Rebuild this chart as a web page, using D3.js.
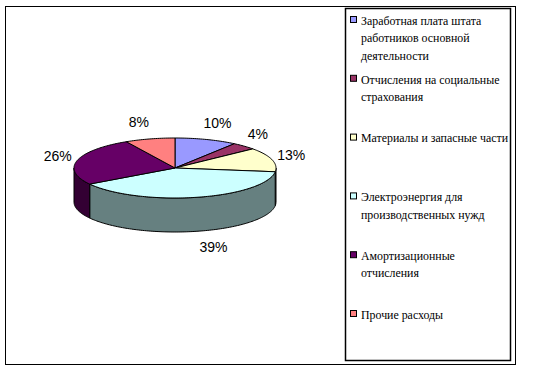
<!doctype html>
<html>
<head>
<meta charset="utf-8">
<script src="https://d3js.org/d3.v7.min.js"></script>
<style>
    body { margin: 0; background: #fff; }
    .pct { font-family: "Liberation Sans", Arial, sans-serif; font-size: 14px; fill: #000; }
    .leg { font-family: "Liberation Serif", "DejaVu Serif", serif; font-size: 13.5px; fill: #000; }
</style>
</head>
<body>
<div id="chart"></div>
<script>

    // data
    var categories = [
        ["Заработная плата штата", "работников основной", "деятельности"],
        ["Отчисления на социальные", "страхования"],
        ["Материалы и запасные части"],
        ["Электроэнергия для", "производственных  нужд"],
        ["Амортизационные", "отчисления"],
        ["Прочие расходы"]
    ];
    var values = [10, 4, 13, 39, 26, 8];
    var topColors = ["#9999ff", "#993366", "#ffffcc", "#ccffff", "#660066", "#ff8080"];
    var sideColors = ["#4d4d80", "#4d1a33", "#808066", "#668080", "#330033", "#804040"];

    var W = 533, H = 372;
    var svg = d3.select("#chart").append("svg")
        .attr("width", W)
        .attr("height", H);

    // outer frame + legend box
    svg.append("rect").attr("x", 5.5).attr("y", 6.5).attr("width", 510).attr("height", 358)
        .attr("fill", "none").attr("stroke", "#000").attr("stroke-width", 1);
    svg.append("rect").attr("x", 345.5).attr("y", 8.5).attr("width", 165).attr("height", 352)
        .attr("fill", "none").attr("stroke", "#000").attr("stroke-width", 1.5);

    // pie geometry (tilted ellipse)
    var cx = 175, cy = 168, rx = 101, ry = 30, depth = 34;

    var total = d3.sum(values);
    var angle = d3.scaleLinear().domain([0, total]).range([0, 2 * Math.PI]);

    var slices = [];
    var acc = 0;
    values.forEach(function(v, i) {
        slices.push({i: i, v: v, a0: angle(acc), a1: angle(acc + v)});
        acc += v;
    });

    function pt(a, dy) {
        return [cx + rx * Math.sin(a), cy - ry * Math.cos(a) + (dy || 0)];
    }

    function arcPts(a0, a1, dy) {
        var n = Math.max(2, Math.ceil((a1 - a0) / 0.02));
        var pts = [];
        for (var k = 0; k <= n; k++) pts.push(pt(a0 + (a1 - a0) * k / n, dy));
        return pts;
    }

    // side walls, only the front half (pi/2 .. 3pi/2) is visible
    var g = svg.append("g");
    slices.forEach(function(s) {
        var a0 = Math.max(s.a0, Math.PI / 2), a1 = Math.min(s.a1, 3 * Math.PI / 2);
        if (a1 <= a0) return;
        var top = arcPts(a0, a1, 0);
        var bot = arcPts(a0, a1, depth).reverse();
        g.append("path")
            .attr("d", d3.line()(top.concat(bot)) + "Z")
            .attr("fill", sideColors[s.i])
            .attr("stroke", "#000")
            .attr("stroke-width", 1)
            .attr("stroke-linejoin", "round");
    });

    // top faces
    slices.forEach(function(s) {
        var pts = [[cx, cy]].concat(arcPts(s.a0, s.a1, 0));
        g.append("path")
            .attr("d", d3.line()(pts) + "Z")
            .attr("fill", topColors[s.i])
            .attr("stroke", "#000")
            .attr("stroke-width", 1)
            .attr("stroke-linejoin", "round");
    });

    // percent labels
    slices.forEach(function(s) {
        var m = (s.a0 + s.a1) / 2;
        var c = Math.cos(m), sn = Math.sin(m);
        var x = cx + (rx + 20) * sn;
        var y = cy - (ry + 17) * c + (c < 0 ? -c * depth : 0);
        if (c < -0.5) x += 12;
        if (c > 0.9) x += sn > 0 ? 5 : -6;   // nudge the two labels near the top
        svg.append("text")
            .attr("class", "pct")
            .attr("x", x)
            .attr("y", y)
            .attr("dy", "0.35em")
            .attr("text-anchor", "middle")
            .text(Math.round(s.v / total * 100) + "%");
    });

    // legend
    var legY = d3.scaleLinear().domain([0, categories.length - 1]).range([20, 314]);
    var leg = svg.append("g");
    categories.forEach(function(lines, i) {
        var y = legY(i);
        leg.append("rect")
            .attr("x", 350.5).attr("y", y - 3.5)
            .attr("width", 6).attr("height", 6)
            .attr("fill", topColors[i])
            .attr("stroke", "#000").attr("stroke-width", 1);
        // the original legend font is tall and narrow
        var t = leg.append("text")
            .attr("class", "leg")
            .attr("transform", "translate(361," + y + ") scale(0.88,1)");
        lines.forEach(function(l, j) {
            t.append("tspan").attr("x", 0).attr("dy", j === 0 ? "0.35em" : 17.5).text(l);
        });
    });

</script>
</body>
</html>
